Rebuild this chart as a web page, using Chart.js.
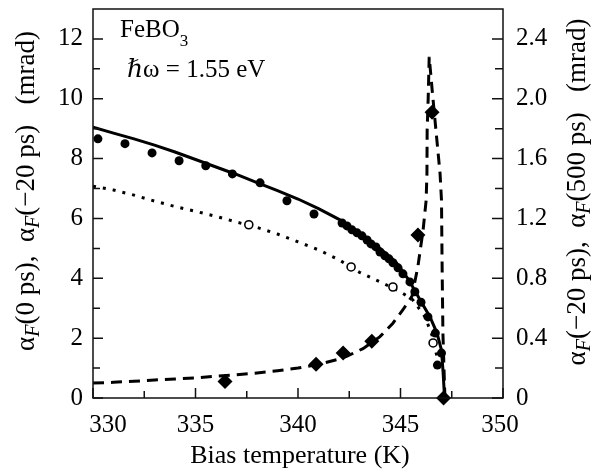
<!DOCTYPE html>
<html>
<head>
<meta charset="utf-8">
<script src="https://cdn.jsdelivr.net/npm/chart.js@4.4.1/dist/chart.umd.min.js"></script>
<style>
html,body{margin:0;padding:0;background:#fff;}
canvas{display:block;}
</style>
</head>
<body>
<canvas id="c" width="593" height="473"></canvas>
<script>
// ---- data (temperature K, value) ----
const fit0ps = [[330,9.05],[331,8.85],[332,8.66],[333,8.45],[334,8.22],[335,7.97],[336,7.72],[337,7.47],[338,7.20],[339,6.93],[340,6.65],[341,6.33],[342,5.97],[343,5.50],[344,5.00],[344.8,4.52],[345.4,3.95],[345.95,3.28],[346.44,2.71],[346.78,2.17],[347.0,1.6],[347.08,0.84],[347.15,0]];
const dots0ps = [[330.24,8.66],[331.56,8.50],[332.88,8.19],[334.2,7.93],[335.5,7.76],[336.8,7.49],[338.15,7.19],[339.46,6.59],[340.78,6.15],[342.15,5.85],[342.39,5.75],[342.63,5.62],[342.88,5.52],[343.12,5.42],[343.37,5.28],[343.56,5.15],[343.80,5.05],[344.00,4.88],[344.24,4.75],[344.44,4.65],[344.63,4.52],[344.88,4.35],[345.12,4.15],[345.46,3.88],[345.7,3.55],[346.0,3.2],[346.34,2.71],[346.7,2.17],[347.0,1.5],[346.8,1.1]];
const fitMinus20ps = [[330,7.08],[331,6.95],[332,6.78],[333,6.58],[334,6.40],[335,6.24],[336,6.07],[337,5.88],[338,5.70],[339,5.48],[340,5.22],[341,4.95],[342,4.62],[343,4.20],[344,3.88],[345,3.55],[345.6,3.28],[346.2,2.71],[346.59,2.0],[346.78,1.37]];
const circlesMinus20ps = [[337.6,5.79],[342.59,4.38],[344.63,3.71],[346.59,1.84]];
const fit500ps = [[330,0.10],[331,0.105],[332,0.112],[333,0.12],[334,0.127],[335,0.135],[336,0.145],[337,0.155],[338,0.167],[339,0.182],[340,0.20],[341,0.225],[342,0.26],[342.4,0.28],[343.17,0.33],[344.0,0.41],[344.63,0.50],[345.12,0.59],[345.56,0.68],[345.85,0.88],[346.1,1.12],[346.25,1.32],[346.29,1.5],[346.3,1.79],[346.35,2.0],[346.4,2.28],[346.55,2.05],[346.68,1.86],[346.93,1.5],[347.0,1.32],[347.03,0.88],[347.07,0.43],[347.15,0.07],[347.17,0]];
const diamonds500ps = [[336.44,0.11],[340.88,0.225],[342.2,0.30],[343.6,0.38],[345.85,1.09],[346.54,1.91],[347.1,0]];

const xTicks = [330,335,340,345,350];
const xMinorTicks = [332.5,337.5,342.5,347.5];
const leftTicks = [0,2,4,6,8,10,12];
const leftMinorTicks = [1,3,5,7,9,11];
const rightTicks = [0,0.4,0.8,1.2,1.6,2.0,2.4];
const rightMinorTicks = [0.2,0.6,1.0,1.4,1.8,2.2];

const toXY = a => a.map(p => ({x:p[0], y:p[1]}));
const SERIF = "'Liberation Serif','Times New Roman','DejaVu Serif',serif";

function drawRich(ctx, parts, cx, cy, rot){
  ctx.save();
  ctx.translate(cx, cy);
  ctx.rotate(rot);
  ctx.textBaseline = 'alphabetic';
  ctx.textAlign = 'left';
  let total = 0;
  parts.forEach(p => { ctx.font = p.f; p.w = ctx.measureText(p.t).width; total += p.w; });
  let x = -total/2;
  parts.forEach(p => { ctx.font = p.f; ctx.fillText(p.t, x, p.dy || 0); x += p.w; });
  ctx.restore();
}

const decor = {
  id: 'decor',
  afterDraw(chart){
    const ctx = chart.ctx, ca = chart.chartArea;
    const sx = chart.scales.x, sy = chart.scales.y, sy2 = chart.scales.y2;
    ctx.save();
    ctx.strokeStyle = '#111';
    ctx.lineWidth = 1.5;
    ctx.strokeRect(ca.left, ca.top, ca.right - ca.left, ca.bottom - ca.top);
    ctx.beginPath();
    xTicks.forEach(v => { const p = sx.getPixelForValue(v); ctx.moveTo(p, ca.bottom); ctx.lineTo(p, ca.bottom - 10); });
    xMinorTicks.forEach(v => { const p = sx.getPixelForValue(v); ctx.moveTo(p, ca.bottom); ctx.lineTo(p, ca.bottom - 7); });
    leftTicks.forEach(v => { const p = sy.getPixelForValue(v); ctx.moveTo(ca.left, p); ctx.lineTo(ca.left + 10, p); });
    leftMinorTicks.forEach(v => { const p = sy.getPixelForValue(v); ctx.moveTo(ca.left, p); ctx.lineTo(ca.left + 7, p); });
    rightTicks.forEach(v => { const p = sy2.getPixelForValue(v); ctx.moveTo(ca.right, p); ctx.lineTo(ca.right - 11, p); });
    rightMinorTicks.forEach(v => { const p = sy2.getPixelForValue(v); ctx.moveTo(ca.right, p); ctx.lineTo(ca.right - 8, p); });
    ctx.stroke();

    ctx.fillStyle = '#000';
    // x tick labels
    ctx.font = "25px " + SERIF;
    ctx.textAlign = 'center';
    ctx.textBaseline = 'alphabetic';
    xTicks.forEach((v, i) => {
      let off = 0;
      if (i === 0) off = 15;
      if (i === xTicks.length - 1) off = -3;
      ctx.fillText(String(v), sx.getPixelForValue(v) + off, ca.bottom + 34);
    });
    // x title
    ctx.font = "26px " + SERIF;
    ctx.fillText('Bias temperature (K)', 300, 463);

    const N = "27px " + SERIF, I = "italic 20px " + SERIF;
    drawRich(ctx, [
      {t:'α', f:N},{t:'F', f:I, dy:5},{t:'(0 ps),  ', f:N},
      {t:'α', f:N},{t:'F', f:I, dy:5},{t:'(−20 ps)   (mrad)', f:N}
    ], 34, 191, -Math.PI/2);
    drawRich(ctx, [
      {t:'α', f:N},{t:'F', f:I, dy:5},{t:'(−20 ps),  ', f:N},
      {t:'α', f:N},{t:'F', f:I, dy:5},{t:'(500 ps)   (mrad)', f:N}
    ], 585, 192, -Math.PI/2);

    // annotations
    ctx.textAlign = 'left';
    ctx.font = "25px " + SERIF;
    ctx.fillText('FeBO', 120, 37);
    const w = ctx.measureText('FeBO').width;
    ctx.font = "17px " + SERIF;
    ctx.fillText('3', 120 + w, 46);
    ctx.font = "25px " + SERIF;
    ctx.fillText('ℏω = 1.55 eV', 127, 77);
    ctx.restore();
  }
};

function fixVertical(width){
  return function(s){ s.width = width; s.paddingTop = 0; s.paddingBottom = 0; };
}

new Chart(document.getElementById('c'), {
  type: 'scatter',
  data: {
    datasets: [
      {data: toXY(dots0ps), yAxisID:'y', showLine:false, pointRadius:4.5, pointBackgroundColor:'#000', pointBorderColor:'#000', pointBorderWidth:0, order:1, clip:false},
      {data: toXY(circlesMinus20ps), yAxisID:'y', showLine:false, pointRadius:4, pointBackgroundColor:'#fff', pointBorderColor:'#000', pointBorderWidth:1.6, order:1, clip:false},
      {data: toXY(diamonds500ps), yAxisID:'y2', showLine:false, pointStyle:'rectRot', pointRadius:7.5, pointBackgroundColor:'#000', pointBorderColor:'#000', pointBorderWidth:0, order:1, clip:false},
      {data: toXY(fit0ps), yAxisID:'y', showLine:true, pointRadius:0, borderColor:'#000', borderWidth:3, tension:0, order:2},
      {data: toXY(fitMinus20ps), yAxisID:'y', showLine:true, pointRadius:0, borderColor:'#000', borderWidth:3, borderDash:[3,7], tension:0, order:2},
      {data: toXY(fit500ps), yAxisID:'y2', showLine:true, pointRadius:0, borderColor:'#000', borderWidth:3, borderDash:[11,7], tension:0, order:2}
    ]
  },
  options: {
    responsive:false, animation:false, devicePixelRatio:1,
    layout:{padding:{top:9,left:0,right:0,bottom:0}},
    plugins:{legend:{display:false}, tooltip:{enabled:false}},
    scales:{
      x:{type:'linear', position:'bottom', min:330, max:350,
         grid:{display:false, drawTicks:false}, border:{display:false},
         ticks:{display:false},
         afterFit(s){ s.height = 75; s.paddingLeft = 0; s.paddingRight = 0; }},
      y:{type:'linear', position:'left', min:0, max:13,
         grid:{display:false, drawTicks:false}, border:{display:false},
         afterBuildTicks(s){ s.ticks = leftTicks.map(v => ({value:v})); },
         ticks:{color:'#000', padding:10, font:{family:SERIF, size:25}},
         afterFit: fixVertical(93)},
      y2:{type:'linear', position:'right', min:0, max:2.6,
         grid:{display:false, drawTicks:false}, border:{display:false},
         afterBuildTicks(s){ s.ticks = rightTicks.map(v => ({value:v})); },
         ticks:{color:'#000', padding:13, font:{family:SERIF, size:25},
                callback:v => v === 0 ? '0' : v.toFixed(1)},
         afterFit: fixVertical(90)}
    }
  },
  plugins:[decor]
});
</script>
</body>
</html>
